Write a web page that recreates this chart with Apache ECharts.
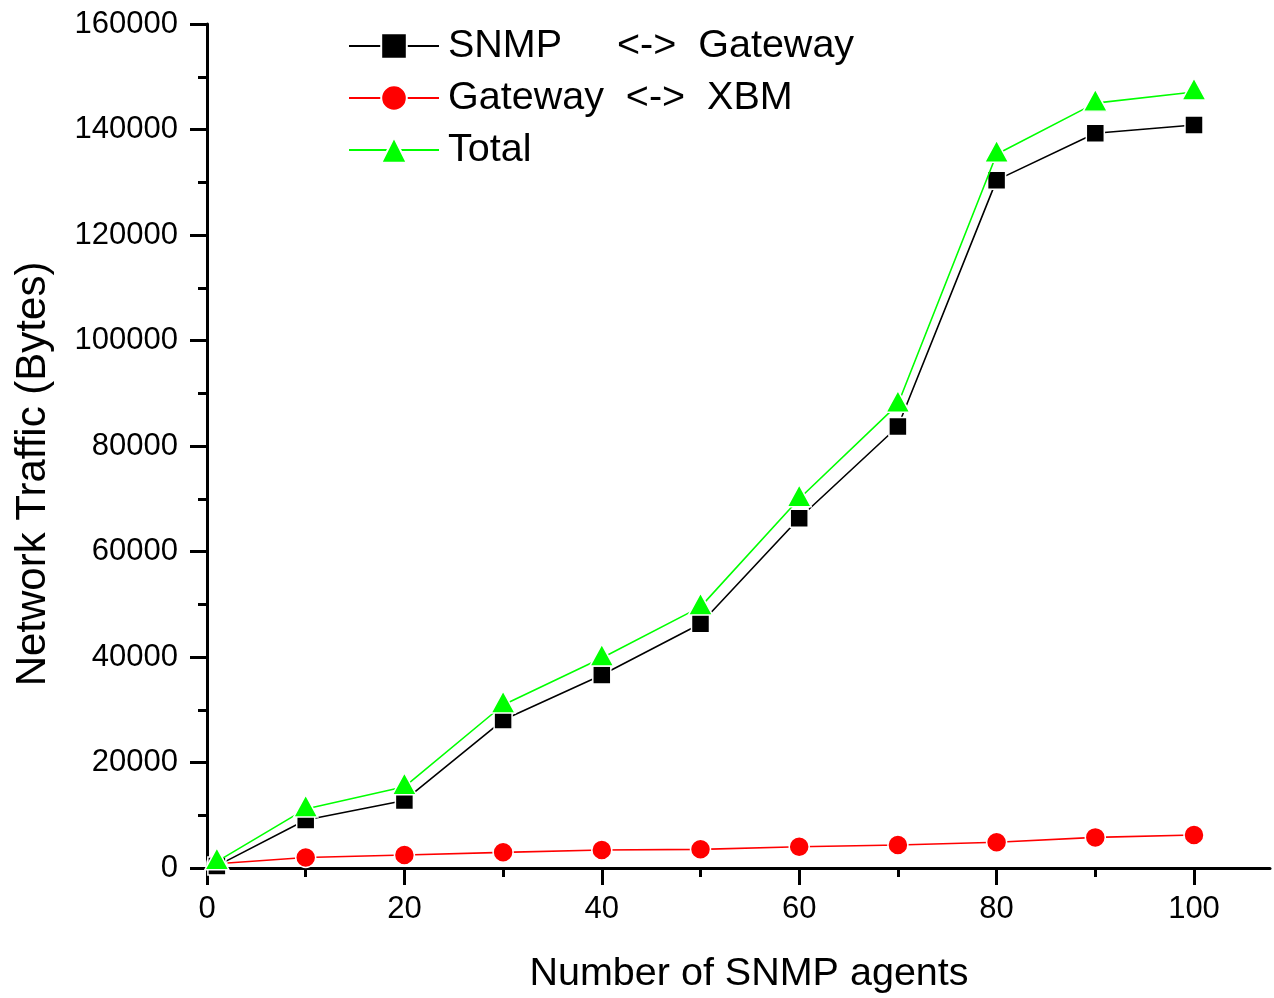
<!DOCTYPE html>
<html>
<head>
<meta charset="utf-8">
<script src="https://cdn.jsdelivr.net/npm/echarts@6/dist/echarts.min.js"></script>
<style>html,body{margin:0;padding:0;background:#fff;}#c{width:1274px;height:998px;}</style>
</head>
<body>
<div id="c"></div>
<script>
// Data
const agents = [1, 10, 20, 30, 40, 50, 60, 70, 80, 90, 100];
const snmpGateway = [400, 9100, 12800, 28050, 36600, 46300, 66300, 83700, 130400, 139300, 140850];
const gatewayXbm = [800, 2000, 2460, 2970, 3410, 3540, 4040, 4360, 4870, 5800, 6260];
const total = [1200, 11200, 15400, 30900, 39800, 49500, 70000, 87900, 135300, 145000, 147100];
const xMajorTicks = [0, 20, 40, 60, 80, 100];
const xMinorTicks = [10, 30, 50, 70, 90];
const seriesNames = ['SNMP     <->  Gateway', 'Gateway  <->  XBM', 'Total'];

const FONT = 'Liberation Sans, Arial, Helvetica, sans-serif';
const pairs = (ys) => agents.map((x, i) => [x, ys[i]]);

const chart = echarts.init(document.getElementById('c'), null, {renderer: 'canvas'});
chart.setOption({
  backgroundColor: '#fff',
  animation: false,
  grid: {left: 207, top: 24, width: 1063, height: 844, containLabel: false},
  legend: {
    orient: 'vertical',
    left: 348,
    top: 26,
    padding: 0,
    itemWidth: 90,
    itemHeight: 32,
    itemGap: 12,
    textStyle: {fontFamily: FONT, fontSize: 39.5, color: '#000', lineHeight: 39, padding: [0, 0, 0, 4]},
    data: seriesNames
  },
  xAxis: [{
    type: 'value', min: 0, max: 107.7,
    splitLine: {show: false},
    axisLine: {show: true, lineStyle: {color: '#000', width: 3}},
    axisTick: {show: true, inside: false, length: 17, lineStyle: {color: '#000', width: 3}, customValues: xMajorTicks},
    axisLabel: {show: true, margin: 26, fontFamily: FONT, fontSize: 31, color: '#000', customValues: xMajorTicks}
  }, {
    type: 'value', min: 0, max: 107.7, position: 'bottom',
    splitLine: {show: false},
    axisLine: {show: false},
    axisTick: {show: true, inside: false, length: 9, lineStyle: {color: '#000', width: 3}, customValues: xMinorTicks},
    axisLabel: {show: false}
  }],
  yAxis: {
    type: 'value', min: 0, max: 160000, interval: 20000,
    splitLine: {show: false},
    axisLine: {show: true, lineStyle: {color: '#000', width: 3}},
    axisTick: {show: true, inside: false, length: 17, lineStyle: {color: '#000', width: 3}},
    minorTick: {show: true, splitNumber: 2, length: 9, lineStyle: {color: '#000', width: 3}},
    axisLabel: {margin: 29, fontFamily: FONT, fontSize: 31, color: '#000', formatter: (v) => String(v)}
  },
  graphic: [
    {type: 'text', x: 749, y: 974,
      style: {text: 'Number of SNMP agents', fontFamily: FONT, fontSize: 39.5, fill: '#000', align: 'center', verticalAlign: 'middle'}},
    {type: 'text', x: 33, y: 474, rotation: Math.PI / 2,
      style: {text: 'Network Traffic (Bytes)', fontFamily: FONT, fontSize: 42, fill: '#000', align: 'center', verticalAlign: 'middle'}}
  ],
  series: [
    {
      name: seriesNames[0], type: 'line', xAxisIndex: 0, data: pairs(snmpGateway),
      symbol: 'rect', symbolSize: 18,
      lineStyle: {color: '#000', width: 1.6},
      itemStyle: {color: '#000', borderColor: '#fff', borderWidth: 1.5},
      z: 3
    },
    {
      name: seriesNames[1], type: 'line', xAxisIndex: 0, data: pairs(gatewayXbm),
      symbol: 'circle', symbolSize: 20,
      lineStyle: {color: '#ff0000', width: 1.6},
      itemStyle: {color: '#ff0000', borderColor: '#fff', borderWidth: 1.5},
      z: 2
    },
    {
      name: seriesNames[2], type: 'line', xAxisIndex: 0, data: pairs(total),
      symbol: 'triangle', symbolSize: [24, 22], symbolOffset: [0, -3],
      lineStyle: {color: '#00ff00', width: 1.6},
      itemStyle: {color: '#00ff00', borderColor: '#fff', borderWidth: 1.5},
      z: 4
    }
  ]
});
</script>
</body>
</html>
